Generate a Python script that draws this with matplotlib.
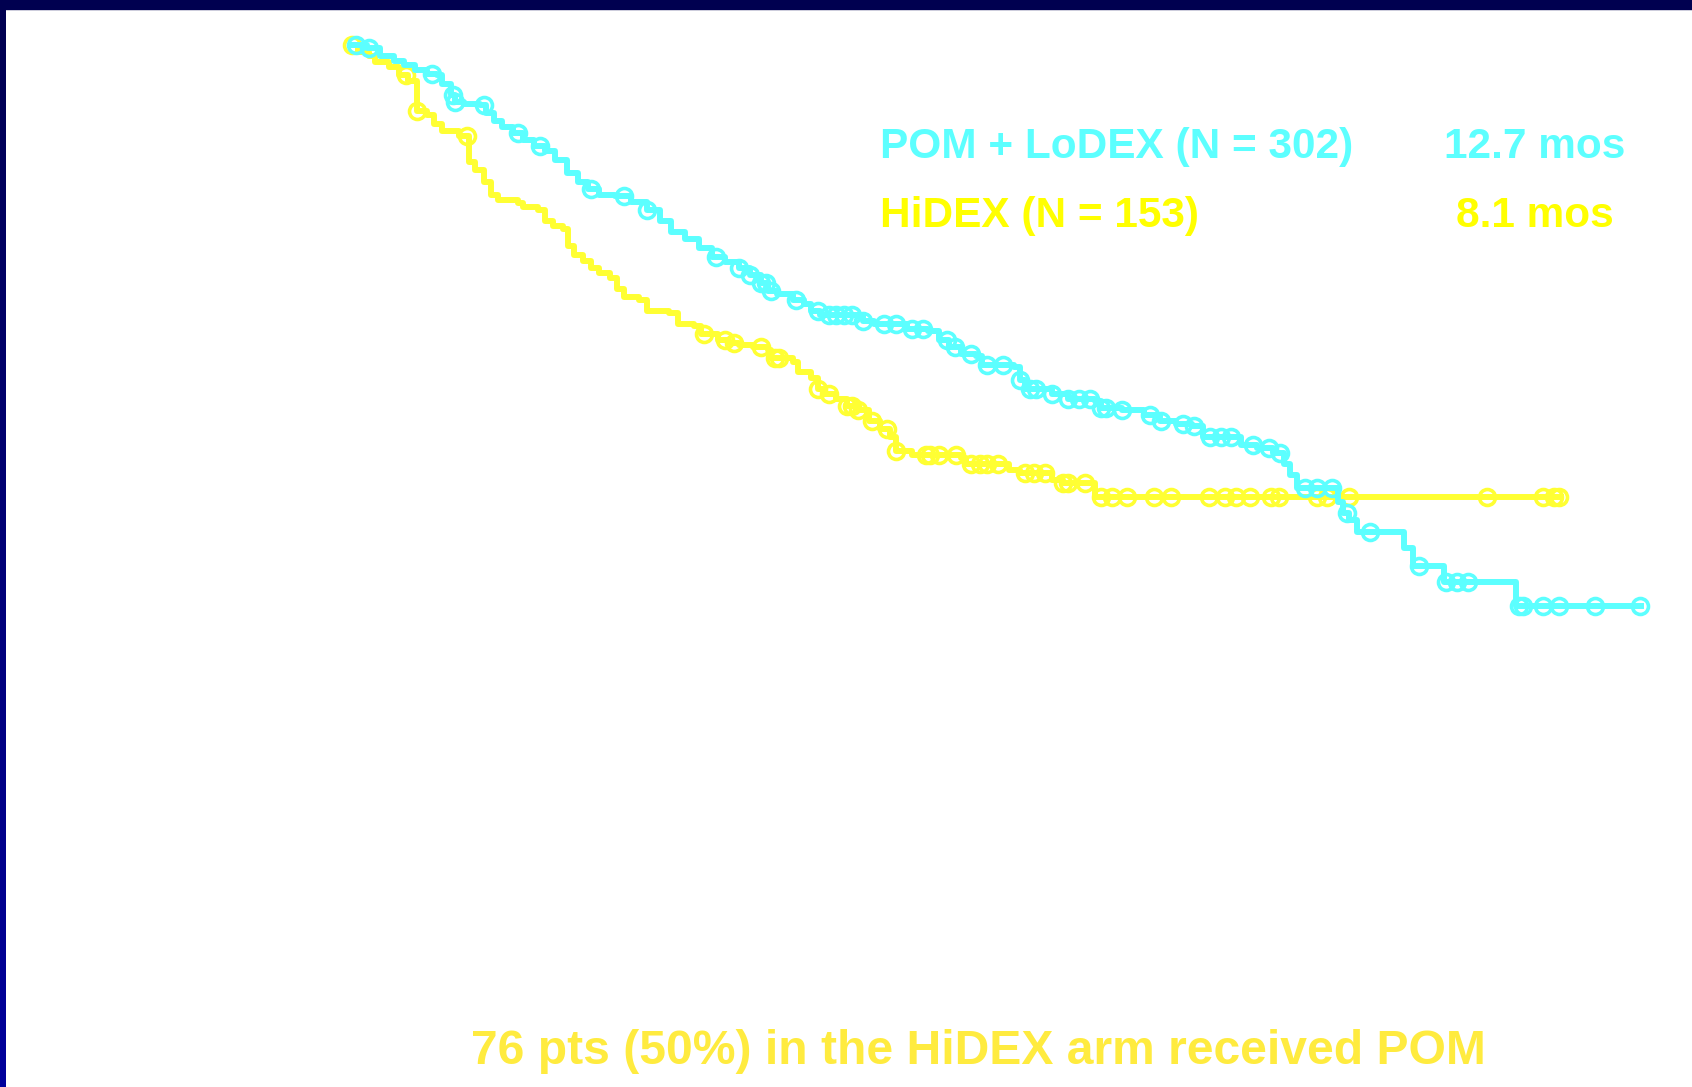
import matplotlib
matplotlib.use("Agg")
import matplotlib.pyplot as plt
import numpy as np
from matplotlib.patches import Rectangle

# Kaplan-Meier step vertices (months, survival probability)
pom_t = [0.0, 0.21, 0.39, 0.59, 0.74, 0.89, 1.05, 1.20, 1.27, 1.39, 1.45, 1.58, 1.80,
         1.88, 2.00, 2.11, 2.26, 2.41, 2.56, 2.71, 2.86, 3.02, 3.17, 3.32, 3.47, 3.70,
         3.92, 4.15, 4.33, 4.48, 4.68, 4.88, 5.06, 5.24, 5.44, 5.59, 5.74, 5.85, 5.97,
         6.20, 6.35, 6.45, 6.58, 7.18, 7.33, 7.79, 8.09, 8.24, 8.39, 8.55, 8.77, 8.85,
         9.30, 9.38, 9.45, 9.83, 10.06, 10.44, 10.52, 10.82, 11.12, 11.35, 11.58, 11.80,
         11.95, 12.48, 12.71, 12.94, 13.09, 13.17, 13.27, 13.85, 13.92, 14.00, 14.12,
         14.77, 14.90, 15.33, 16.35, 18.10]
pom_s = [1.0, 0.996, 0.987, 0.980, 0.976, 0.969, 0.965, 0.963, 0.952, 0.939, 0.930, 0.927,
         0.926, 0.916, 0.907, 0.899, 0.892, 0.883, 0.876, 0.870, 0.859, 0.843, 0.832, 0.823,
         0.816, 0.814, 0.807, 0.797, 0.783, 0.770, 0.761, 0.750, 0.739, 0.733, 0.726, 0.717,
         0.707, 0.697, 0.693, 0.686, 0.681, 0.673, 0.668, 0.660, 0.657, 0.650, 0.648, 0.637,
         0.628, 0.620, 0.617, 0.606, 0.604, 0.588, 0.577, 0.570, 0.564, 0.561, 0.553, 0.551,
         0.544, 0.537, 0.533, 0.531, 0.517, 0.508, 0.504, 0.497, 0.484, 0.471, 0.455, 0.437,
         0.424, 0.415, 0.400, 0.380, 0.358, 0.338, 0.309, 0.309]
pom_cens = [0.06, 0.24, 1.12, 1.42, 1.45, 1.85, 2.33, 2.64, 3.36, 3.82, 4.15, 5.11, 5.44,
            5.59, 5.74, 5.82, 5.89, 6.24, 6.55, 6.70, 6.80, 6.91, 7.03, 7.18, 7.48, 7.64,
            7.86, 8.02, 8.36, 8.47, 8.70, 8.92, 9.15, 9.38, 9.53, 9.61, 9.83, 10.06, 10.21,
            10.36, 10.52, 10.59, 10.82, 11.21, 11.36, 11.67, 11.82, 12.05, 12.20, 12.35,
            12.65, 12.88, 13.03, 13.39, 13.55, 13.77, 13.97, 14.30, 14.98, 15.36, 15.52,
            15.67, 16.39, 16.45, 16.73, 16.95, 17.45, 18.09]

hidex_t = [0.0, 0.09, 0.24, 0.33, 0.52, 0.67, 0.79, 0.91, 1.05, 1.15, 1.27, 1.50, 1.64,
           1.73, 1.85, 1.95, 2.06, 2.33, 2.41, 2.61, 2.71, 2.82, 2.97, 3.03, 3.12, 3.24,
           3.36, 3.47, 3.62, 3.73, 3.82, 4.03, 4.15, 4.45, 4.58, 4.80, 4.91, 5.14, 5.29,
           5.44, 5.64, 5.85, 5.89, 6.20, 6.27, 6.45, 6.55, 6.65, 6.80, 6.95, 7.11, 7.26,
           7.41, 7.56, 7.64, 7.86, 8.55, 8.62, 9.23, 9.38, 9.83, 9.98, 10.44, 16.98]
hidex_s = [1.0, 0.992, 0.987, 0.979, 0.973, 0.963, 0.956, 0.919, 0.914, 0.903, 0.894, 0.888,
           0.856, 0.846, 0.832, 0.816, 0.809, 0.806, 0.801, 0.797, 0.783, 0.777, 0.774, 0.753,
           0.741, 0.734, 0.726, 0.719, 0.713, 0.699, 0.690, 0.686, 0.673, 0.670, 0.657, 0.654,
           0.644, 0.637, 0.633, 0.630, 0.628, 0.624, 0.614, 0.610, 0.597, 0.590, 0.577, 0.570,
           0.564, 0.555, 0.551, 0.537, 0.527, 0.517, 0.500, 0.495, 0.491, 0.484, 0.477, 0.473,
           0.464, 0.460, 0.443, 0.443]
hidex_cens = [0.0, 0.76, 0.91, 1.62, 4.94, 5.24, 5.36, 5.74, 5.94, 6.00, 6.55, 6.70, 6.95,
              7.03, 7.11, 7.30, 7.52, 7.64, 8.06, 8.12, 8.24, 8.48, 8.70, 8.82, 8.92, 9.08,
              9.45, 9.58, 9.73, 9.98, 10.06, 10.29, 10.52, 10.67, 10.89, 11.27, 11.50, 12.03,
              12.26, 12.41, 12.61, 12.91, 13.02, 13.55, 13.70, 14.00, 15.94, 16.73, 16.88, 16.95]

arm_labels = ["POM + LoDEX (N = 302)", "HiDEX (N = 153)"]
medians = ["12.7 mos", "8.1 mos"]
footnote = "76 pts (50%) in the HiDEX arm received POM"

CYAN = "#5cffff"
YELLOW = "#ffff33"

plt.rcParams["font.family"] = ["Liberation Sans", "DejaVu Sans"]
plt.rcParams["font.weight"] = "bold"

fig = plt.figure(figsize=(16.92, 10.87), dpi=100)
fig.patch.set_facecolor("white")

# navy frame along top and left edge
edge = fig.add_axes([0, 0, 5 / 1692, 1])
grad = np.linspace(0, 1, 256).reshape(-1, 1)
edge.imshow(grad, aspect="auto", cmap=matplotlib.colors.LinearSegmentedColormap.from_list(
    "navy", ["#00009c", "#000050"]), origin="lower")
edge.axis("off")
fig.patches.append(Rectangle((0, 1 - 9 / 1087), 1, 9 / 1087, transform=fig.transFigure,
                             color="#000050", zorder=5))

ax = fig.add_axes([0.2079, 0.2118, 0.7787, 0.7466])
ax.set_xlim(0, 18.5)
ax.set_ylim(0, 1)
ax.axis("off")


def km_draw(t, s, cens, color):
    ax.plot(t, s, drawstyle="steps-post", color=color, lw=4.3, clip_on=False)
    idx = np.searchsorted(t, cens, side="right") - 1
    cy = np.array(s)[np.clip(idx, 0, len(s) - 1)]
    ax.plot(cens, cy, "o", ms=11.5, mfc="none", mec=color, mew=2.6, clip_on=False)


km_draw(hidex_t, hidex_s, hidex_cens, YELLOW)
km_draw(pom_t, pom_s, pom_cens, CYAN)

fig.text(880 / 1692, 1 - 158 / 1087, arm_labels[0], color=CYAN, fontsize=30.5,
         fontweight="bold", va="baseline", ha="left")
fig.text(880 / 1692, 1 - 227 / 1087, arm_labels[1], color="#ffff00", fontsize=30.5,
         fontweight="bold", va="baseline", ha="left")
fig.text(1535 / 1692, 1 - 158 / 1087, medians[0], color=CYAN, fontsize=30.5,
         fontweight="bold", va="baseline", ha="center")
fig.text(1535 / 1692, 1 - 227 / 1087, medians[1], color="#ffff00", fontsize=30.5,
         fontweight="bold", va="baseline", ha="center")
fig.text(978 / 1692, 1 - 1064 / 1087, footnote, color="#ffeb3f", fontsize=34.6,
         fontweight="bold", va="baseline", ha="center")

plt.savefig("out.png", dpi=100, facecolor="white")
